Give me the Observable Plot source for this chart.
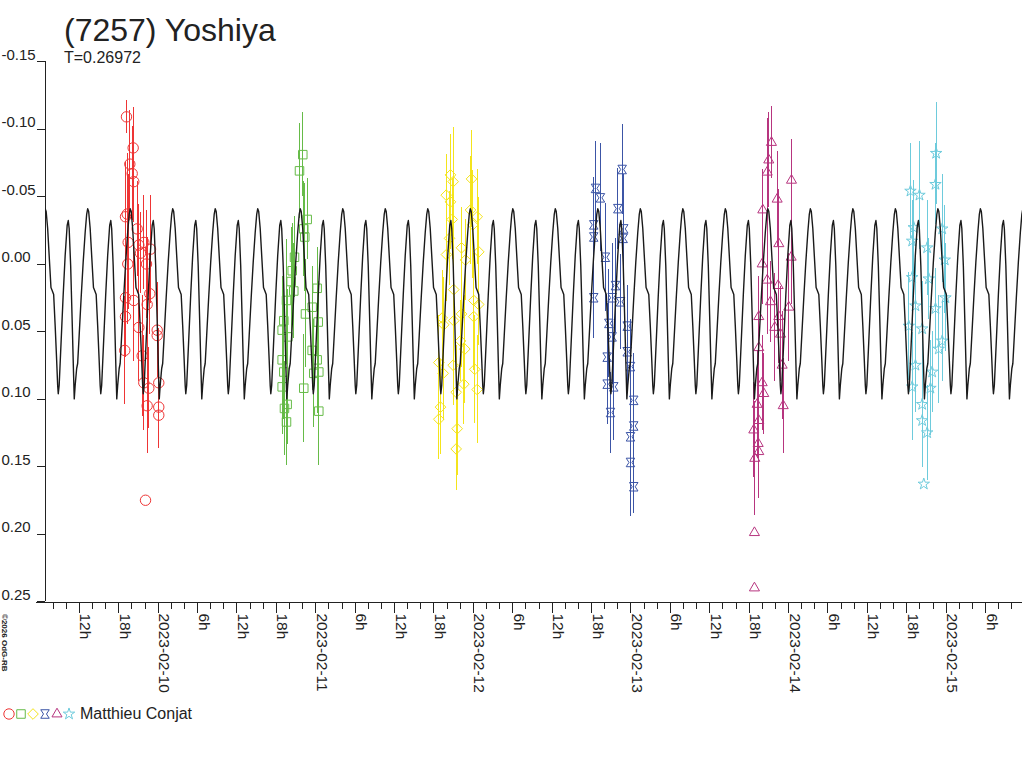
<!DOCTYPE html>
<html><head><meta charset="utf-8">
<script src="https://cdn.jsdelivr.net/npm/d3@7"></script>
<script src="https://cdn.jsdelivr.net/npm/@observablehq/plot@0.6"></script>
<style>
html,body{margin:0;padding:0;background:#fff;}
#wrap{position:relative;width:1024px;height:768px;overflow:hidden;font-family:"Liberation Sans",Arial,sans-serif;color:#222;}
#chart{position:absolute;left:0;top:0;}
#title{position:absolute;left:64px;top:14px;font-size:32px;line-height:32px;white-space:nowrap;}
#subtitle{position:absolute;left:64px;top:50px;font-size:16px;line-height:16px;white-space:nowrap;}
#overlay{position:absolute;left:0;top:0;pointer-events:none;}
</style></head>
<body>
<div id="wrap">
  <div id="chart"></div>
  <div id="title">(7257) Yoshiya</div>
  <div id="subtitle">T=0.26972</div>
  <svg id="overlay" width="1024" height="768"></svg>
</div>
<script>
// ---------- data (hours relative to 2023-02-10 00:00 UT, magnitudes) ----------
const periodDays = 0.26972;
const observer = "Matthieu Conjat";
const copyright = "©2026 OdG-RB";

const yTickValues = [-0.15, -0.10, -0.05, 0.00, 0.05, 0.10, 0.15, 0.20, 0.25];
const yTickLabels = ["-0.15", "-0.10", "-0.05", "0.00", "0.05", "0.10", "0.15", "0.20", "0.25"];

// model light curve: one rotation, phase 0 = brighter maximum
const modelEpochH = 2.208;
const modelPhase = [0.000,0.0235,0.0588,0.0941,0.1364,0.1647,0.2000,0.2352,0.2705,0.2941,0.3082,0.3293,0.3764,0.4234,0.4705,0.5175,0.5434,0.5646,0.5999,0.6351,0.6657,0.6845,0.7057,0.7410,0.7645,0.7998,0.8469,0.8939,0.9410,0.9762,1.000];
const modelMag   = [-0.0409,-0.0389,-0.0263,-0.0063,0.0174,0.0196,0.0226,0.0456,0.0715,0.0900,0.0961,0.0900,0.0567,0.0233,-0.0063,-0.0285,-0.0322,-0.0263,0.0011,0.0419,0.0789,0.0999,0.0900,0.0774,0.0737,0.0530,0.0248,-0.0011,-0.0233,-0.0367,-0.0409];

const redTime = [-4.83,-3.81,-4.32,-3.96,-3.72,-4.72,-4.98,-3.20,-4.57,-2.95,-2.19,-1.17,-2.70,-4.63,-1.78,-4.98,-1.28,-3.72,-1.68,-4.98,-0.15,-0.15,-2.95,-5.09,-2.44,-2.19,-1.43,0.09,-1.68,0.09,0.09,-1.93];
const redMag  = [-0.109,-0.086,-0.074,-0.067,-0.061,-0.037,-0.035,-0.026,-0.016,-0.014,-0.016,-0.011,-0.008,0.000,0.000,0.025,0.022,0.027,0.030,0.039,0.049,0.053,0.047,0.064,0.068,0.088,0.092,0.088,0.105,0.106,0.112,0.175];
const redErr  = [0.012,0.030,0.040,0.035,0.030,0.045,0.040,0.035,0.050,0.030,0.035,0.040,0.030,0.045,0.040,0.035,0.030,0.045,0.050,0.030,0.035,0.030,0.040,0.040,0.045,0.035,0.030,0.040,0.035,0.030,0.025,0.000];

const greenTime = [22.02,21.52,22.69,22.17,22.32,20.76,20.41,20.25,24.21,20.65,19.54,23.45,22.43,19.13,24.37,18.88,19.74,23.45,18.88,24.21,19.13,24.46,23.69,18.88,22.17,19.64,19.23,24.46,19.54];
const greenMag  = [-0.081,-0.069,-0.033,-0.026,-0.020,-0.005,0.005,0.013,0.018,0.020,0.027,0.032,0.037,0.042,0.043,0.049,0.054,0.064,0.071,0.071,0.080,0.080,0.081,0.091,0.092,0.104,0.107,0.109,0.117];
const greenErr  = [0.031,0.035,0.030,0.035,0.040,0.030,0.035,0.040,0.030,0.035,0.045,0.030,0.040,0.035,0.030,0.040,0.035,0.030,0.045,0.040,0.035,0.030,0.040,0.035,0.040,0.030,0.035,0.040,0.032];

const yellowTime = [44.51,44.92,43.86,44.51,47.71,47.56,48.58,44.77,47.91,44.36,46.19,48.82,43.90,46.80,45.01,48.06,48.82,46.19,43.25,45.01,48.06,43.49,46.03,46.69,42.73,44.92,48.21,43.40,46.54,45.38,48.58,42.99,42.73,45.53,45.38];
const yellowMag  = [-0.066,-0.061,-0.051,-0.046,-0.063,-0.040,-0.035,-0.033,-0.029,-0.019,-0.012,-0.009,-0.007,-0.003,0.019,0.027,0.030,0.037,0.040,0.042,0.039,0.045,0.057,0.063,0.073,0.075,0.078,0.081,0.089,0.095,0.093,0.106,0.115,0.122,0.137];
const yellowErr  = [0.030,0.040,0.030,0.035,0.036,0.040,0.035,0.030,0.040,0.035,0.030,0.040,0.035,0.030,0.040,0.035,0.030,0.040,0.035,0.030,0.040,0.035,0.030,0.040,0.035,0.030,0.040,0.035,0.030,0.035,0.040,0.035,0.030,0.035,0.031];

const blueTime = [70.66,66.59,67.35,69.99,66.33,70.90,66.33,70.81,68.11,69.64,66.33,69.13,70.40,71.42,68.62,69.13,71.42,68.37,71.92,68.37,69.38,72.42,68.88,72.42,71.92,71.92,72.42];
const blueMag  = [-0.070,-0.056,-0.049,-0.041,-0.029,-0.026,-0.020,-0.019,-0.005,0.016,0.025,0.025,0.028,0.046,0.044,0.054,0.065,0.069,0.076,0.089,0.091,0.101,0.110,0.120,0.128,0.147,0.165];
const blueErr  = [0.033,0.035,0.040,0.030,0.035,0.040,0.030,0.035,0.040,0.035,0.030,0.040,0.035,0.030,0.040,0.035,0.030,0.040,0.035,0.030,0.040,0.035,0.030,0.035,0.030,0.040,0.020];

const magentaTime = [93.39,92.98,96.44,92.74,94.26,92.07,94.51,96.39,91.98,92.74,94.41,93.24,96.03,94.51,91.46,93.90,94.77,91.46,95.02,91.98,92.22,91.21,95.18,91.46,90.70,91.37,91.46,90.85,90.80,90.80];
const magentaMag  = [-0.090,-0.077,-0.062,-0.068,-0.048,-0.040,-0.015,-0.005,0.000,0.012,0.016,0.028,0.032,0.039,0.039,0.047,0.052,0.062,0.075,0.088,0.096,0.104,0.105,0.116,0.123,0.133,0.139,0.144,0.199,0.240];
const magentaErr  = [0.027,0.035,0.030,0.040,0.035,0.030,0.040,0.035,0.030,0.040,0.035,0.030,0.040,0.035,0.030,0.040,0.035,0.030,0.040,0.035,0.030,0.040,0.035,0.030,0.035,0.030,0.035,0.042,0.000,0.000];

const cyanTime = [118.47,114.56,115.93,118.37,115.06,119.39,114.82,117.10,119.78,114.82,117.35,119.89,115.32,118.37,114.30,116.34,119.39,118.87,115.32,117.86,114.82,117.60,116.34,116.34,117.10,116.59];
const cyanMag  = [-0.082,-0.054,-0.051,-0.059,-0.027,-0.026,-0.017,-0.012,-0.003,0.010,0.011,0.025,0.031,0.033,0.046,0.048,0.057,0.063,0.075,0.080,0.091,0.092,0.104,0.116,0.125,0.163];
const cyanErr  = [0.038,0.035,0.040,0.030,0.035,0.040,0.030,0.035,0.040,0.035,0.030,0.040,0.035,0.030,0.040,0.035,0.030,0.040,0.035,0.030,0.040,0.035,0.030,0.035,0.035,0.000];

const sessionColors = ["#ee3535", "#66bb48", "#f4e41c", "#3c55a6", "#b7357f", "#6ecbdc"];

// ---------- symbols ----------
const bowtie = {draw(ctx, size) {
  const r = Math.sqrt(size) / 2;
  ctx.moveTo(-r, -r); ctx.lineTo(r, -r); ctx.lineTo(r * 0.35, 0); ctx.lineTo(r, r);
  ctx.lineTo(-r, r); ctx.lineTo(-r * 0.35, 0); ctx.closePath();
}};
const sessionSymbols = [d3.symbolCircle, d3.symbolSquare, d3.symbolDiamond2, bowtie, d3.symbolTriangle2, d3.symbolStar];
const sessionR = [5.2, 4.8, 4.8, 4.8, 4.8, 3.6];

// ---------- build ----------
const base = Date.UTC(2023, 1, 10);
const toDate = h => new Date(base + h * 3600e3);
const domainStartH = -17.16, domainEndH = 131.62;
const startDate = toDate(domainStartH), endDate = toDate(domainEndH);

const sessions = [
  [redTime, redMag, redErr], [greenTime, greenMag, greenErr], [yellowTime, yellowMag, yellowErr],
  [blueTime, blueMag, blueErr], [magentaTime, magentaMag, magentaErr], [cyanTime, cyanMag, cyanErr]
].map(([t, m, e], i) => ({
  color: sessionColors[i], symbol: sessionSymbols[i], r: sessionR[i],
  rows: t.map((h, j) => ({date: toDate(h), mag: m[j], err: e[j]}))
}));

const periodH = periodDays * 24;
const modelRows = [];
const n0 = Math.floor((domainStartH - modelEpochH) / periodH) - 1;
const n1 = Math.ceil((domainEndH - modelEpochH) / periodH) + 1;
for (let n = n0; n <= n1; n++)
  for (let k = 0; k < modelPhase.length - 1; k++)
    modelRows.push({date: toDate(modelEpochH + (n + modelPhase[k]) * periodH), mag: modelMag[k]});

const minorTicks = d3.utcHour.every(2).range(startDate, endDate);
const majorTicks = d3.utcHour.every(6).range(startDate, endDate);
const fmtTick = d => d.getUTCHours() === 0 ? d3.utcFormat("%Y-%m-%d")(d) : d.getUTCHours() + "h";

const ink = "#222";
const marks = [
  // axes
  Plot.ruleX([startDate], {y1: -0.15, y2: 0.25, stroke: ink, shapeRendering: "crispEdges"}),
  Plot.ruleY([0.25], {dy: 1, insetLeft: -9, stroke: ink, shapeRendering: "crispEdges"}),
  Plot.ruleY(yTickValues, {y: d => d, x1: startDate, x2: startDate, insetLeft: -8, stroke: ink, shapeRendering: "crispEdges"}),
  Plot.text(yTickValues, {y: d => d, text: (d, i) => yTickLabels[i], frameAnchor: "left", dx: -44, dy: -2,
    textAnchor: "start", lineAnchor: "bottom", fontSize: 15, fill: ink}),
  Plot.ruleX(minorTicks, {x: d => d, y1: 0.25, y2: 0.25, dy: 1, insetBottom: -7, stroke: ink, shapeRendering: "crispEdges"}),
  Plot.ruleX(majorTicks, {x: d => d, y1: 0.25, y2: 0.25, dy: 1, insetBottom: -11, stroke: ink, shapeRendering: "crispEdges"}),
  Plot.text(majorTicks, {x: d => d, text: fmtTick, frameAnchor: "bottom", rotate: 90, textAnchor: "start",
    lineAnchor: "bottom", dx: 1, dy: 12, fontSize: 15.5, fill: ink})
];
for (const s of sessions) {
  marks.push(Plot.ruleX(s.rows.filter(d => d.err > 0), {x: "date", y1: d => d.mag - d.err, y2: d => d.mag + d.err,
    stroke: s.color, strokeWidth: 1, shapeRendering: "crispEdges"}));
  marks.push(Plot.dot(s.rows, {x: "date", y: "mag", symbol: s.symbol, r: s.r, stroke: s.color, fill: "none", strokeWidth: 1}));
}
marks.push(Plot.line(modelRows, {x: "date", y: "mag", stroke: "#1a1a1a", strokeWidth: 1.4, clip: true}));

const chart = Plot.plot({
  width: 1024, height: 700,
  marginTop: 61, marginLeft: 45, marginRight: 2, marginBottom: 99,
  x: {type: "utc", domain: [startDate, endDate], axis: null},
  y: {domain: [-0.15, 0.25], reverse: true, axis: null},
  style: {fontFamily: "'Liberation Sans', Arial, sans-serif", background: "white", color: ink, overflow: "visible"},
  marks
});
document.getElementById("chart").append(chart);

// ---------- legend & copyright ----------
const ov = d3.select("#overlay");
ov.append("text").attr("transform", "translate(1.5,614) rotate(90)")
  .attr("font-family", "'Liberation Sans', Arial, sans-serif").attr("font-size", 8).attr("font-weight", "bold")
  .attr("fill", ink).text(copyright);
sessions.forEach((s, i) => {
  ov.append("path").attr("transform", `translate(${9 + i * 12},714)`)
    .attr("d", d3.symbol(s.symbol, Math.PI * s.r * s.r)())
    .attr("fill", "none").attr("stroke", s.color).attr("stroke-width", 1);
});
ov.append("text").attr("x", 80).attr("y", 718.5)
  .attr("font-family", "'Liberation Sans', Arial, sans-serif").attr("font-size", 16).attr("fill", ink).text(observer);
</script>
</body></html>
